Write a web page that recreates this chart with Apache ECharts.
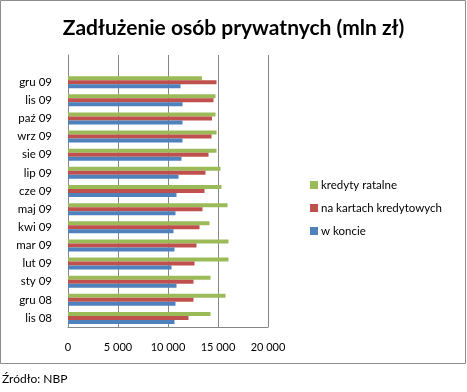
<!DOCTYPE html>
<html><head><meta charset="utf-8">
<script src="https://cdn.jsdelivr.net/npm/echarts@6/dist/echarts.min.js"></script>
<style>html,body{margin:0;padding:0;background:#fff}#c{width:467px;height:392px}</style>
</head><body><div id="c"></div>
<script>
const categories = ['lis 08','gru 08','sty 09','lut 09','mar 09','kwi 09','maj 09','cze 09','lip 09','sie 09','wrz 09','paź 09','lis 09','gru 09',''];
const wKoncie = [10650,10750,10850,10350,10650,10550,10750,10850,11050,11350,11450,11450,11450,11250,null];
const naKartach = [12050,12550,12550,12650,12850,13150,13450,13650,13750,14050,14350,14400,14550,14850,null];
const ratalne = [14250,15750,14250,16050,16050,14150,15950,15350,15250,14850,14850,14750,14750,13400,null];
const xTicks = [0,5000,10000,15000,20000];
const font = 'Lato, "Open Sans", sans-serif';
const chart = echarts.init(document.getElementById('c'), null, {renderer:'canvas'});
chart.setOption({
  animation:false,
  title:{text:'Zadłużenie osób prywatnych (mln zł)',left:'center',top:13,
    textStyle:{fontFamily:font,fontSize:21,fontWeight:'bold',color:'#000'}},
  graphic:[
    {type:'rect',shape:{x:0.5,y:0.5,width:465,height:363},style:{fill:'none',stroke:'#8c8c8c',lineWidth:1}},
    {type:'text',left:2,top:373,style:{text:'Źródło: NBP',fontFamily:font,fontSize:12,fill:'#000'}}
  ],
  legend:{orient:'vertical',left:305,top:173,itemWidth:8,itemHeight:8,itemGap:9,icon:'rect',
    data:['kredyty ratalne','na kartach kredytowych','w koncie'],
    textStyle:{fontFamily:font,fontSize:11.5,color:'#000',lineHeight:14,padding:[0,0,0,-2]}},
  grid:{left:68,top:55,width:200,height:272,containLabel:false},
  xAxis:{type:'value',min:0,max:20000,interval:5000,
    axisLine:{show:true,lineStyle:{color:'#868686'}},axisTick:{show:false},
    splitLine:{show:true,lineStyle:{color:'#868686',width:1}},
    axisLabel:{margin:15,fontFamily:font,fontSize:11,color:'#000',
      formatter:v=>String(v).replace(/\B(?=(\d{3})+(?!\d))/g,' ')}},
  yAxis:{type:'category',data:categories,
    axisLine:{show:true,lineStyle:{color:'#868686'}},axisTick:{show:false},
    axisLabel:{margin:16,fontFamily:font,fontSize:11.5,color:'#000'}},
  series:[
    {name:'kredyty ratalne',type:'bar',data:ratalne,barWidth:4,barGap:'0%',itemStyle:{color:'#9BBB59'}},
    {name:'na kartach kredytowych',type:'bar',data:naKartach,barWidth:4,barGap:'0%',itemStyle:{color:'#C0504D'}},
    {name:'w koncie',type:'bar',data:wKoncie,barWidth:4,barGap:'0%',itemStyle:{color:'#4F81BD'}}
  ]
});
</script></body></html>
